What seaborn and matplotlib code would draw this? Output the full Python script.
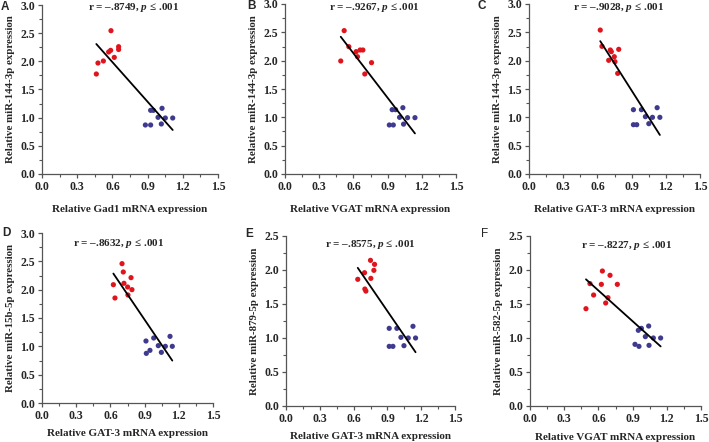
import numpy as np
import pandas as pd
import matplotlib
matplotlib.use("Agg")
import matplotlib.pyplot as plt
import seaborn as sns
from matplotlib.ticker import MultipleLocator

# data: (x, y) for red (treated) and blue (control) groups
a_red_x = [0.463, 0.477, 0.523, 0.568, 0.585, 0.588, 0.616, 0.653, 0.653]
a_red_y = [1.775, 1.97, 2.006, 2.166, 2.195, 2.544, 2.07, 2.26, 2.21]
a_blue_x = [0.881, 0.926, 0.926, 0.949, 0.989, 1.023, 1.051, 1.017, 1.114]
a_blue_y = [0.87, 0.87, 1.13, 1.13, 1.006, 1.166, 0.994, 0.888, 0.994]

b_red_x = [0.489, 0.519, 0.56, 0.624, 0.636, 0.659, 0.683, 0.70, 0.759]
b_red_y = [1.994, 2.53, 2.247, 2.159, 2.07, 2.188, 2.188, 1.765, 1.965]
b_blue_x = [0.915, 0.95, 0.94, 0.97, 1.005, 1.034, 1.04, 1.075, 1.14]
b_blue_y = [0.865, 0.865, 1.135, 1.135, 1.0, 1.17, 0.88, 0.994, 0.994]

c_red_x = [0.625, 0.64, 0.699, 0.713, 0.722, 0.748, 0.754, 0.787, 0.778]
c_red_y = [2.54, 2.253, 2.006, 2.188, 2.159, 2.07, 1.982, 2.2, 1.776]
c_blue_x = [0.916, 0.916, 0.945, 0.986, 1.021, 1.051, 1.083, 1.124, 1.148]
c_blue_y = [1.135, 0.87, 0.87, 1.135, 1.012, 0.888, 1.0, 1.17, 1.0]

d_red_x = [0.626, 0.64, 0.702, 0.713, 0.719, 0.751, 0.754, 0.781, 0.789]
d_red_y = [2.088, 1.853, 2.459, 2.312, 2.112, 2.047, 1.906, 2.212, 2.0]
d_blue_x = [0.912, 0.915, 0.947, 0.98, 1.02, 1.047, 1.082, 1.123, 1.143]
d_blue_y = [1.094, 0.876, 0.929, 1.147, 1.012, 0.894, 1.0, 1.176, 1.0]

e_red_x = [0.637, 0.697, 0.70, 0.709, 0.75, 0.753, 0.78, 0.786]
e_red_y = [1.863, 1.96, 1.72, 1.69, 2.142, 1.877, 1.995, 2.083]
e_blue_x = [0.916, 0.916, 0.949, 0.984, 1.02, 1.047, 1.085, 1.127, 1.15]
e_blue_y = [1.142, 0.877, 0.877, 1.142, 1.01, 0.887, 1.0, 1.172, 1.0]

f_red_x = [0.491, 0.526, 0.558, 0.626, 0.635, 0.664, 0.684, 0.702, 0.766]
f_red_y = [1.431, 1.80, 1.632, 1.789, 1.985, 1.515, 1.593, 1.922, 1.789]
f_blue_x = [0.921, 0.956, 0.95, 0.977, 1.012, 1.041, 1.044, 1.082, 1.146]
f_blue_y = [0.907, 0.877, 1.113, 1.142, 1.02, 1.176, 0.892, 1.0, 1.0]

letters = ["A", "B", "C", "D", "E", "F"]
r_values = ["–.8749", "–.9267", "–.9028", "–.8632", "–.8575", "–.8227"]
x_labels = ["Relative Gad1 mRNA expression", "Relative VGAT mRNA expression",
            "Relative GAT-3 mRNA expression", "Relative GAT-3 mRNA expression",
            "Relative GAT-3 mRNA expression", "Relative VGAT mRNA expression"]
y_labels = ["Relative miR-144-3p expression", "Relative miR-144-3p expression",
            "Relative miR-144-3p expression", "Relative miR-15b-5p expression",
            "Relative miR-879-5p expression", "Relative miR-582-5p expression"]
y_max = [3.0, 3.0, 3.0, 3.0, 2.5, 2.5]

panels = [(a_red_x, a_red_y, a_blue_x, a_blue_y),
          (b_red_x, b_red_y, b_blue_x, b_blue_y),
          (c_red_x, c_red_y, c_blue_x, c_blue_y),
          (d_red_x, d_red_y, d_blue_x, d_blue_y),
          (e_red_x, e_red_y, e_blue_x, e_blue_y),
          (f_red_x, f_red_y, f_blue_x, f_blue_y)]

sns.set_style("ticks")
plt.rcParams['font.family'] = ['Liberation Serif', 'DejaVu Serif']
plt.rcParams['font.weight'] = 'bold'
plt.rcParams['mathtext.fontset'] = 'custom'
plt.rcParams['mathtext.it'] = 'Liberation Serif:bold:italic'
plt.rcParams['mathtext.rm'] = 'Liberation Serif:bold'

W, H = 709, 442
fig = plt.figure(figsize=(W / 100, H / 100), dpi=100)

# axes boxes in pixels: left, right, top, bottom
boxes = [(42, 218, 5, 174), (285, 456, 4, 174), (529, 700, 4, 174),
         (42, 213, 233, 403), (286, 455, 236, 406), (530, 701, 236, 406)]
letter_pos = [(5, 7), (251, 6), (482, 6), (6, 233), (249, 234), (485, 234)]
title_pos = [(134, 8), (374, 8), (619, 8), (119, 243), (370, 244), (627, 246)]
xlab_pad = [9, 9, 9, 5, 5, 6]

red = "#e0141c"
blue = "#3e3a8e"
spine_c = "#555555"

for i, (rx, ry, bx, by) in enumerate(panels):
    l, r, t, b = boxes[i]
    ax = fig.add_axes([l / W, 1 - b / H, (r - l) / W, (b - t) / H])
    df = pd.DataFrame({"x": rx + bx, "y": ry + by,
                       "g": ["red"] * len(rx) + ["blue"] * len(bx)})
    sns.scatterplot(data=df, x="x", y="y", hue="g", palette={"red": red, "blue": blue},
                    s=14, linewidth=0, legend=False, ax=ax)
    sns.regplot(data=df, x="x", y="y", scatter=False, ci=None, ax=ax,
                color="black", line_kws={"lw": 1.3})
    ax.set_xlim(0, 1.5)
    ax.set_ylim(0, y_max[i])
    ax.xaxis.set_major_locator(MultipleLocator(0.3))
    ax.xaxis.set_minor_locator(MultipleLocator(0.15))
    ax.yaxis.set_major_locator(MultipleLocator(0.5))
    ax.yaxis.set_minor_locator(MultipleLocator(0.25))
    ax.xaxis.set_major_formatter(matplotlib.ticker.FormatStrFormatter("%.1f"))
    ax.yaxis.set_major_formatter(matplotlib.ticker.FormatStrFormatter("%.1f"))
    for s in ["top", "right"]:
        ax.spines[s].set_visible(False)
    for s in ["left", "bottom"]:
        ax.spines[s].set_color(spine_c)
        ax.spines[s].set_linewidth(0.9)
    ax.tick_params(which="major", length=3, width=0.9, color=spine_c,
                   labelsize=8.5, pad=2)
    ax.tick_params(which="minor", length=2, width=0.8, color=spine_c)
    for lab in ax.get_xticklabels() + ax.get_yticklabels():
        lab.set_fontweight("bold")
    ax.set_xlabel(x_labels[i], fontsize=8, fontweight="bold", labelpad=xlab_pad[i])
    ax.set_ylabel(y_labels[i], fontsize=7.8, fontweight="bold", labelpad=4)

    tx, ty = title_pos[i]
    fig.text(tx / W, 1 - ty / H, "r = " + r_values[i] + ", $p$ ≤ .001",
             ha="center", va="center", fontsize=8, fontweight="bold")
    lx, ly = letter_pos[i]
    fig.text(lx / W, 1 - ly / H, letters[i], ha="center", va="center",
             fontsize=8.5, family=["Liberation Sans", "DejaVu Sans"],
             fontweight="normal" if letters[i] == "F" else "bold")

fig.savefig("out.png", dpi=100)
